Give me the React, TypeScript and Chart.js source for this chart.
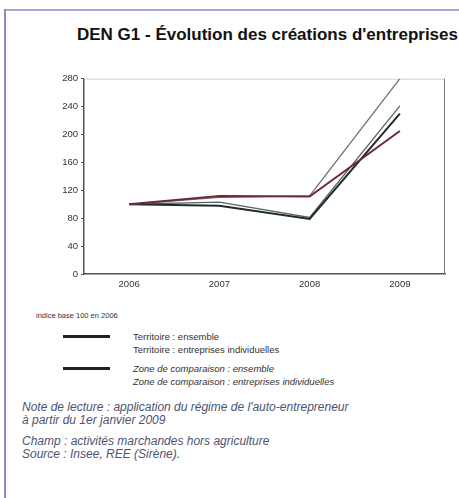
import React, { useEffect, useRef } from "react";
import { Chart, registerables } from "chart.js";

Chart.register(...registerables);

const years = ["2006", "2007", "2008", "2009"];
const yTicks = [0, 40, 80, 120, 160, 200, 240, 280];
const territoireEnsemble = [100, 112, 111, 205];
const territoireEI = [100, 110, 112, 280];
const zoneEnsemble = [100, 98, 79, 230];
const zoneEI = [100, 103, 81, 241];

const legendLabels = [
  "Territoire : ensemble",
  "Territoire : entreprises individuelles",
  "Zone de comparaison : ensemble",
  "Zone de comparaison : entreprises individuelles",
];

const frameBox = {
  id: "frameBox",
  beforeDatasetsDraw(chart: any) {
    const { ctx, chartArea } = chart;
    ctx.save();
    ctx.strokeStyle = "#d0d0d0";
    ctx.lineWidth = 1;
    ctx.beginPath();
    ctx.moveTo(chartArea.left, chartArea.top + 0.5);
    ctx.lineTo(chartArea.right, chartArea.top + 0.5);
    ctx.stroke();
    ctx.strokeStyle = "#777";
    ctx.beginPath();
    ctx.moveTo(chartArea.right - 0.5, chartArea.top);
    ctx.lineTo(chartArea.right - 0.5, chartArea.bottom);
    ctx.stroke();
    ctx.restore();
  },
};

export default function App() {
  const ref = useRef<HTMLCanvasElement | null>(null);
  useEffect(() => {
    if (!ref.current) return;
    const chart = new Chart(ref.current, {
      type: "line",
      data: {
        labels: years,
        datasets: [
          { label: legendLabels[0], data: territoireEnsemble, borderColor: "#6e2a33", borderWidth: 2, pointRadius: 0, tension: 0 },
          { label: legendLabels[1], data: territoireEI, borderColor: "#707070", borderWidth: 1.3, pointRadius: 0, tension: 0 },
          { label: legendLabels[2], data: zoneEnsemble, borderColor: "#1f2b2b", borderWidth: 2, pointRadius: 0, tension: 0 },
          { label: legendLabels[3], data: zoneEI, borderColor: "#5c6466", borderWidth: 1.3, pointRadius: 0, tension: 0 },
        ],
      },
      options: {
        animation: false,
        responsive: false,
        maintainAspectRatio: false,
        layout: { padding: { top: 8, right: 5, left: 0, bottom: 0 } },
        plugins: { legend: { display: false }, tooltip: { enabled: false } },
        scales: {
          x: {
            offset: true,
            grid: { display: false, drawTicks: false },
            border: { display: true, color: "#555", width: 1.5 },
            ticks: { color: "#333", font: { family: "Liberation Sans", size: 9.5 }, padding: 5 },
            afterFit(scale: any) { scale.height = 20; },
          },
          y: {
            min: 0,
            max: 280,
            afterBuildTicks(scale: any) { scale.ticks = yTicks.map((v) => ({ value: v })); },
            grid: { drawOnChartArea: false, drawTicks: true, tickLength: 3, color: "#555" },
            border: { display: true, color: "#555", width: 1.5 },
            ticks: { color: "#333", font: { family: "Liberation Sans", size: 9.5 }, padding: 3 },
            afterFit(scale: any) { scale.width = 44; },
          },
        },
      },
      plugins: [frameBox],
    });
    return () => chart.destroy();
  }, []);

  const legendText: React.CSSProperties = { position: "absolute", left: 133, fontSize: 9.5, color: "#333", whiteSpace: "nowrap", lineHeight: "11px" };
  const sample: React.CSSProperties = { position: "absolute", left: 63, width: 47, height: 2.5, background: "#222" };
  const note: React.CSSProperties = { position: "absolute", left: 22, fontSize: 12, fontStyle: "italic", color: "#4c5470", whiteSpace: "nowrap", lineHeight: "13px" };

  return (
    <div style={{ position: "fixed", left: 0, top: 0, width: 459, height: 498, background: "#fff", fontFamily: "Liberation Sans, Arial, sans-serif", overflow: "hidden" }}>
      <div style={{ position: "absolute", left: 4, top: 9, right: 0, height: 2, background: "#a6aad2" }} />
      <div style={{ position: "absolute", left: 4, top: 9, width: 2, bottom: 0, background: "#8a8cc6" }} />
      <div style={{ position: "absolute", left: 77, top: 25, fontSize: 17, fontWeight: "bold", color: "#111", whiteSpace: "nowrap" }}>
        DEN G1 - Évolution des créations d'entreprises
      </div>
      <canvas ref={ref} width={410} height={224} style={{ position: "absolute", left: 40, top: 70, width: 410, height: 224 }} />
      <div style={{ position: "absolute", left: 36, top: 311, fontSize: 7.5, color: "#333", whiteSpace: "nowrap" }}>indice base 100 en 2006</div>
      <div style={{ ...sample, top: 335 }} />
      <div style={{ ...legendText, top: 331 }}>{legendLabels[0]}</div>
      <div style={{ ...legendText, top: 344 }}>{legendLabels[1]}</div>
      <div style={{ ...sample, top: 367 }} />
      <div style={{ ...legendText, top: 363, fontStyle: "italic" }}>{legendLabels[2]}</div>
      <div style={{ ...legendText, top: 376, fontStyle: "italic" }}>{legendLabels[3]}</div>
      <div style={{ ...note, top: 401 }}>Note de lecture : application du régime de l'auto-entrepreneur</div>
      <div style={{ ...note, top: 414 }}>à partir du 1er janvier 2009</div>
      <div style={{ ...note, top: 435 }}>Champ : activités marchandes hors agriculture</div>
      <div style={{ ...note, top: 448 }}>Source : Insee, REE (Sirène).</div>
    </div>
  );
}
